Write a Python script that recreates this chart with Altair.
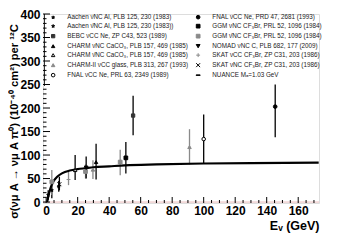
import altair as alt
import pandas as pd

# ---------------- data ----------------
LEFT_SERIES = [
    "Aachen νNC Al, PLB 125, 230 (1983)",
    "Aachen ν̄NC Al, PLB 125, 230 (1983))",
    "BEBC νCC Ne, ZP C43, 523 (1989)",
    "CHARM νNC CaCO₃, PLB 157, 469 (1985)",
    "CHARM ν̄NC CaCO₃, PLB 157, 469 (1985)",
    "CHARM-II νCC glass, PLB 313, 267 (1993)",
    "FNAL νCC Ne, PRL 63, 2349 (1989)",
]
RIGHT_SERIES = [
    "FNAL νCC Ne, PRD 47, 2681 (1993)",
    "GGM νNC CF₃Br, PRL 52, 1096 (1984)",
    "GGM ν̄NC CF₃Br, PRL 52, 1096 (1984)",
    "NOMAD νNC C, PLB 682, 177 (2009)",
    "SKAT νCC CF₃Br, ZP C31, 203 (1986)",
    "SKAT νNC CF₃Br, ZP C31, 203 (1986)",
    "NUANCE Mₐ=1.03 GeV",
]

pt_series = [
    LEFT_SERIES[0], LEFT_SERIES[1], LEFT_SERIES[1], LEFT_SERIES[2],
    LEFT_SERIES[3], LEFT_SERIES[4], LEFT_SERIES[5], LEFT_SERIES[5],
    LEFT_SERIES[6], RIGHT_SERIES[0], RIGHT_SERIES[1], RIGHT_SERIES[2],
    RIGHT_SERIES[2], RIGHT_SERIES[2], RIGHT_SERIES[3], RIGHT_SERIES[4],
    RIGHT_SERIES[5],
]
pt_E     = [3.6, 1.3, 8.0, 55.2, 31.7, 18.4, 91.0, 29.7, 100.0, 145.4, 50.6, 3.6, 47.0, 25.0, 25.4, 14.2, 8.4]
pt_sigma = [25,  15,  33,  184,  85,   68,   117,  69,   134,   203,   94,   43,  85,   65,   73,   48,   38]
pt_lo    = [8,   5,   22,  142,  48,   47,   80,   49,   83,    138,   61,   15,  57,   50,   50,   36,   25]
pt_hi    = [40,  25,  45,  226,  124,  100,  155,  89,   186,   250,   128,  68,  111,  80,   97,   64,   54]

curve_E     = [0.6, 1, 1.5, 2, 3, 4, 5, 7, 10, 15, 20, 25, 30, 40, 50, 70, 100, 130, 173]
curve_sigma = [0, 6, 14, 21, 32, 40, 46, 54, 61, 67, 70, 72, 74, 76, 78, 80, 82, 83, 84]

x_major = [0, 20, 40, 60, 80, 100, 120, 140, 160]
x_minor = [v for v in range(5, 175, 5) if v % 20 != 0]
y_major = [0, 50, 100, 150, 200, 250, 300, 350, 400]
y_minor = [v for v in range(10, 400, 10) if v % 50 != 0]

# ---------------- styles ----------------
STAR = ("M0,-1L0.235,-0.324L0.951,-0.309L0.38,0.124L0.588,0.809L0,0.4"
        "L-0.588,0.809L-0.38,0.124L-0.951,-0.309L-0.235,-0.324Z")
PLUS = "M-1,0L1,0M0,-1L0,1"
XMARK = "M-1,-1L1,1M1,-1L-1,1"
BAR = "M-1,-0.12L1,-0.12L1,0.12L-1,0.12Z"
GREY = "#8a8a8a"
style = {
    LEFT_SERIES[0]: ("black", "black", STAR, 10, 1),
    LEFT_SERIES[1]: ("black", "black", STAR, 16, 1),
    LEFT_SERIES[2]: ("#333", "#333", "square", 9, 1),
    LEFT_SERIES[3]: ("black", "black", "triangle-up", 10, 1),
    LEFT_SERIES[4]: ("white", "black", "triangle-up", 10, 1),
    LEFT_SERIES[5]: (GREY, GREY, "triangle-up", 8, 1),
    LEFT_SERIES[6]: ("white", "black", "circle", 12, 1),
    RIGHT_SERIES[0]: ("black", "black", "circle", 12, 1),
    RIGHT_SERIES[1]: ("black", "black", "square", 9, 1),
    RIGHT_SERIES[2]: (GREY, GREY, "square", 9, 1),
    RIGHT_SERIES[3]: ("black", "black", "triangle-down", 10, 1),
    RIGHT_SERIES[4]: ("transparent", GREY, PLUS, 16, 1),
    RIGHT_SERIES[5]: ("transparent", "black", XMARK, 12, 1),
    RIGHT_SERIES[6]: ("black", "black", BAR, 324, 0.5),
}
# Vega fills a multi-column legend column by column
domain = LEFT_SERIES + RIGHT_SERIES

fills = [style[s][0] for s in domain]
strokes = [style[s][1] for s in domain]
shapes = [style[s][2] for s in domain]
sizes = [style[s][3] for s in domain]
widths = [style[s][4] for s in domain]

pts = pd.DataFrame({"series": pt_series, "E": pt_E, "sigma": pt_sigma,
                    "lo": pt_lo, "hi": pt_hi})
pts["ec"] = [style[s][1] if style[s][1] != "#333" else "black" for s in pt_series]
curve = pd.DataFrame({"E": curve_E, "sigma": curve_sigma})

W, H = 276, 189
FONT = "Liberation Sans"

xs = alt.Scale(domain=[-2, 173.2], nice=False, zero=False)
ys = alt.Scale(domain=[-2, 400], nice=False, zero=False)

x_axis = alt.Axis(values=x_major, ticks=False, tickSize=0, domain=False, grid=False,
                  labelFont=FONT, labelFontWeight="bold", labelFontSize=12,
                  labelColor="black", labelPadding=2,
                  title="Eᵥ (GeV)", titleFont=FONT, titleFontWeight="bold",
                  titleFontSize=12.5, titleColor="black",
                  titleX=W, titleY=22, titleAlign="right", titleBaseline="middle")
y_axis = alt.Axis(values=y_major, ticks=False, tickSize=0, domain=False, grid=False,
                  labelFont=FONT, labelFontWeight="bold", labelFontSize=12,
                  labelColor="black", labelPadding=3,
                  title="σ(νμ A → νμ A π⁰) (10⁻⁴⁰ cm²) per ¹²C",
                  titleFont=FONT, titleFontWeight="bold", titleFontSize=11.2,
                  titleColor="black", titleAngle=-90,
                  titleX=-29, titleY=107, titleAlign="center", titleBaseline="middle")


def X(field):
    return alt.X(field, type="quantitative", scale=xs, axis=x_axis)


def Y(field):
    return alt.Y(field, type="quantitative", scale=ys, axis=y_axis)


zero_line = alt.Chart(pd.DataFrame({"z": [0]})).mark_rule(
    color="#e0a8a8", strokeWidth=0.8).encode(y=Y("z"))

err = alt.Chart(pts).mark_rule(strokeWidth=1.3).encode(
    x=X("E"), y=Y("lo"), y2="hi", stroke=alt.Stroke("ec:N", scale=None))

line = alt.Chart(curve).mark_line(color="black", strokeWidth=2.2,
                                  interpolate="monotone").encode(x=X("E"), y=Y("sigma"))

legend = alt.Legend(title=None, orient="none", legendX=7, legendY=0, columns=2,
                    columnPadding=5, rowPadding=1, labelFont=FONT, labelFontSize=6.3,
                    labelColor="#222", labelLimit=300, labelOffset=11)

points = alt.Chart(pts).mark_point(filled=False, opacity=1).encode(
    x=X("E"), y=Y("sigma"),
    shape=alt.Shape("series:N", scale=alt.Scale(domain=domain, range=shapes), legend=legend),
    fill=alt.Fill("series:N", scale=alt.Scale(domain=domain, range=fills), legend=legend),
    stroke=alt.Stroke("series:N", scale=alt.Scale(domain=domain, range=strokes), legend=legend),
    size=alt.Size("series:N", scale=alt.Scale(domain=domain, range=sizes), legend=legend),
    strokeWidth=alt.StrokeWidth("series:N", scale=alt.Scale(domain=domain, range=widths), legend=legend),
)

xt_major = alt.Chart(pd.DataFrame({"t": x_major})).mark_rule(color="black", strokeWidth=1).encode(
    x=X("t"), y=alt.value(H), y2=alt.value(H - 6))
xt_minor = alt.Chart(pd.DataFrame({"t": x_minor})).mark_rule(color="black", strokeWidth=1).encode(
    x=X("t"), y=alt.value(H), y2=alt.value(H - 3))
yt_major = alt.Chart(pd.DataFrame({"t": y_major})).mark_rule(color="black", strokeWidth=1).encode(
    y=Y("t"), x=alt.value(0), x2=alt.value(7))
yt_minor = alt.Chart(pd.DataFrame({"t": y_minor})).mark_rule(color="black", strokeWidth=1).encode(
    y=Y("t"), x=alt.value(0), x2=alt.value(3.5))

box_edge = alt.Chart(pd.DataFrame({"a": [0]})).mark_rule(color="black", strokeWidth=0.8).encode(
    x=alt.value(1.5), y=alt.value(0), y2=alt.value(72))

chart = alt.layer(zero_line, err, line, points, xt_major, xt_minor, yt_major, yt_minor, box_edge).properties(
    width=W, height=H,
    padding={"left": 35, "top": 6, "right": 20, "bottom": 30},
    autosize=alt.AutoSizeParams(type="none"),
).configure_view(stroke="black", strokeWidth=1.3).configure(background="white")

chart.save("out.html", embed_options={"renderer": "svg", "actions": False})
